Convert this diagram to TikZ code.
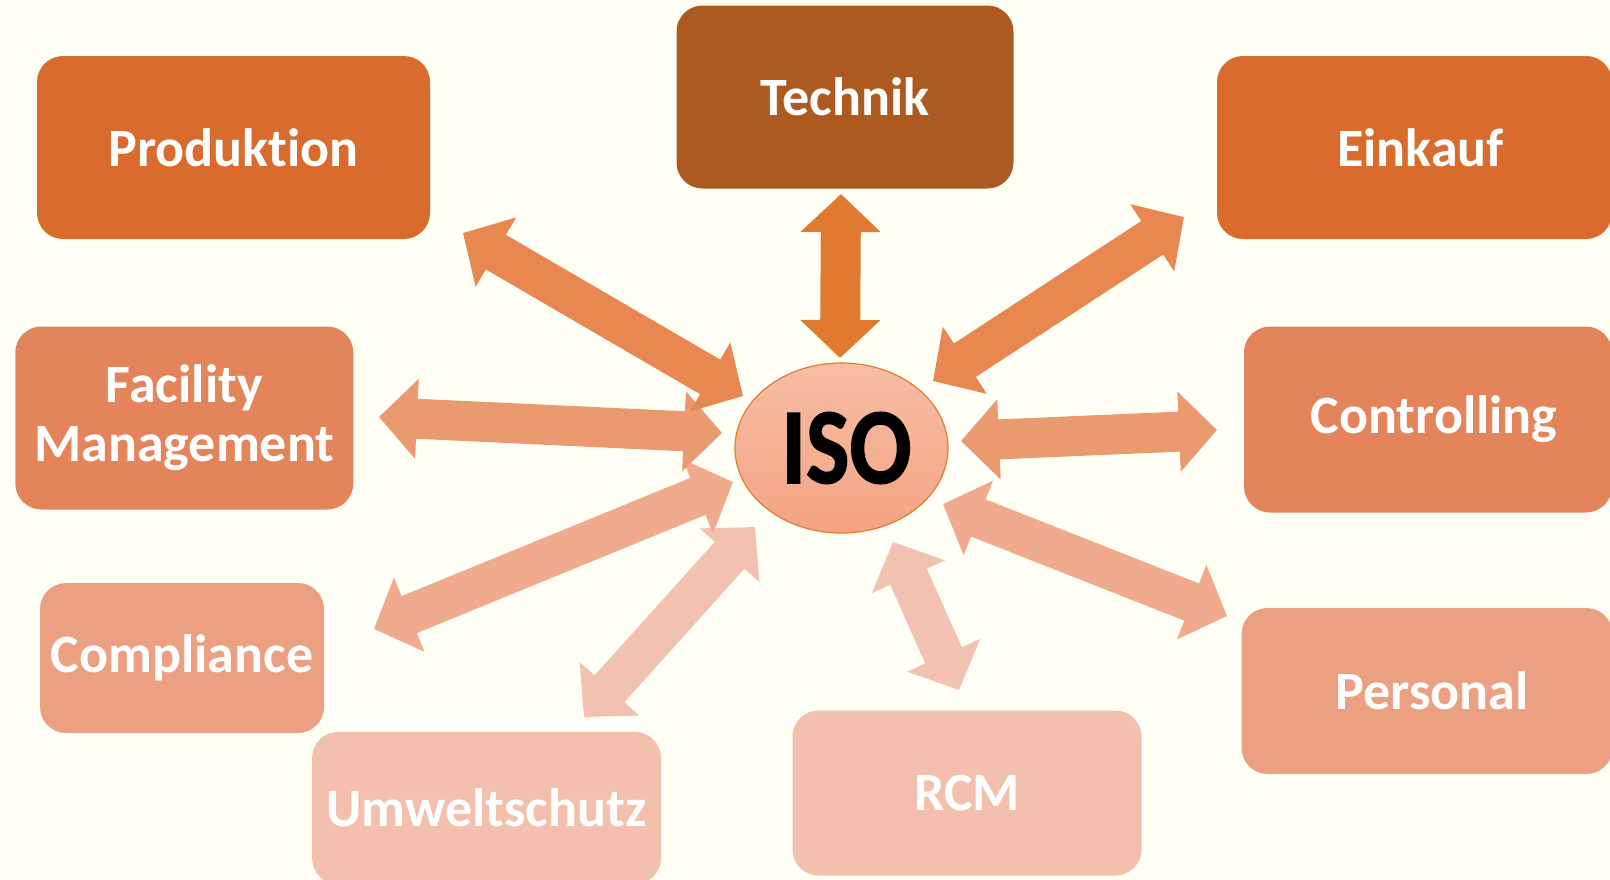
\documentclass[tikz,border=0pt]{standalone}
\usepackage{fontspec}
\setmainfont{Carlito}[Ligatures=NoCommon]
\newfontfamily\isofont{Carlito Bold}[FakeBold=1.4]
\usetikzlibrary{shapes.geometric,arrows.meta}

\definecolor{bgcream}{HTML}{FFFFF5}
\definecolor{boxdark}{HTML}{D96C2C}
\definecolor{boxbrown}{HTML}{AD5A20}
\definecolor{boxmid}{HTML}{E4845A}
\definecolor{boxlight}{HTML}{EBA081}
\definecolor{boxpale}{HTML}{F3C0AD}
\definecolor{arrdark}{HTML}{E88750}
\definecolor{arrtech}{HTML}{E07A30}
\definecolor{arrmid}{HTML}{EB996F}
\definecolor{arrlight}{HTML}{F0AB8E}
\definecolor{arrpale}{HTML}{F3C1AF}
\definecolor{isotop}{HTML}{F7BDA4}
\definecolor{isobot}{HTML}{F4A482}
\definecolor{isoline}{HTML}{E47B2D}

\tikzset{
  deptbox/.style={rectangle, rounded corners=26pt, inner sep=0pt, text=white,
    align=center, font=\fontsize{54}{59}\selectfont\bfseries},
  twoway/.style={line width=40pt, >={Triangle[length=38pt,width=78pt]}, <->}
}

\begin{document}
\begin{tikzpicture}[x=1pt,y=-1pt]

\useasboundingbox (0,0) rectangle (1610,879);
\fill[bgcream] (0,0) rectangle (1610,879);

% departments
\node[deptbox, fill=boxdark, minimum width=393pt, minimum height=183pt] (prod) at (233.5,147.5) {Produktion};
\node[deptbox, fill=boxbrown, minimum width=337pt, minimum height=183pt] (tech) at (845,97) {Technik};
\node[deptbox, fill=boxdark, minimum width=395pt, minimum height=183pt] (eink) at (1414.5,147.5) {\hspace*{12pt}Einkauf};
\node[deptbox, fill=boxmid, minimum width=338pt, minimum height=183pt] (fac) at (184.3,418) {Facility\\Management};
\node[deptbox, fill=boxmid, minimum width=368pt, minimum height=186pt] (contr) at (1428,419.5) {\hspace*{12pt}Controlling};
\node[deptbox, fill=boxlight, minimum width=284pt, minimum height=150pt] (compl) at (182,658) {Compliance};
\node[deptbox, fill=boxlight, minimum width=371pt, minimum height=166pt] (pers) at (1427,691) {\hspace*{10pt}Personal};
\node[deptbox, fill=boxpale, minimum width=349pt, minimum height=152pt] (umw) at (486.5,808) {Umweltschutz};
\node[deptbox, fill=boxpale, minimum width=349pt, minimum height=165pt] (rcm) at (967,793) {RCM};

% arrow ends
\coordinate (umwA) at (584,717);   \coordinate (umwB) at (755,527);
\coordinate (rcmA) at (959,690);   \coordinate (rcmB) at (893,542);
\coordinate (complA) at (374,629); \coordinate (complB) at (733,482);
\coordinate (persA) at (1227,616); \coordinate (persB) at (943,504);
\coordinate (facA) at (379,417);   \coordinate (facB) at (722,433);
\coordinate (contrA) at (1217,430); \coordinate (contrB) at (961,441);
\coordinate (prodA) at (463,233);  \coordinate (prodB) at (743,396);
\coordinate (einkA) at (1184,217); \coordinate (einkB) at (933,381);
\coordinate (techA) at (841,194);  \coordinate (techB) at (840,358);

\draw[twoway, draw=arrpale, fill=arrpale] (umwA) -- (umwB);
\draw[twoway, draw=arrpale, fill=arrpale] (rcmA) -- (rcmB);
\draw[twoway, draw=arrlight, fill=arrlight] (complA) -- (complB);
\draw[twoway, draw=arrlight, fill=arrlight] (persA) -- (persB);
\draw[twoway, draw=arrmid, fill=arrmid] (facA) -- (facB);
\draw[twoway, draw=arrmid, fill=arrmid] (contrA) -- (contrB);
\draw[twoway, draw=arrdark, fill=arrdark] (prodA) -- (prodB);
\draw[twoway, draw=arrdark, fill=arrdark] (einkA) -- (einkB);
\draw[twoway, draw=arrtech, fill=arrtech] (techA) -- (techB);

% centre
\node[ellipse, minimum width=213pt, minimum height=170pt, inner sep=0pt,
  top color=isotop, bottom color=isobot, draw=isoline, line width=1.2pt] (iso) at (841.5,448)
  {\hspace*{10pt}\scalebox{0.85}[1]{\fontsize{108}{108}\isofont ISO}};

\end{tikzpicture}
\end{document}
